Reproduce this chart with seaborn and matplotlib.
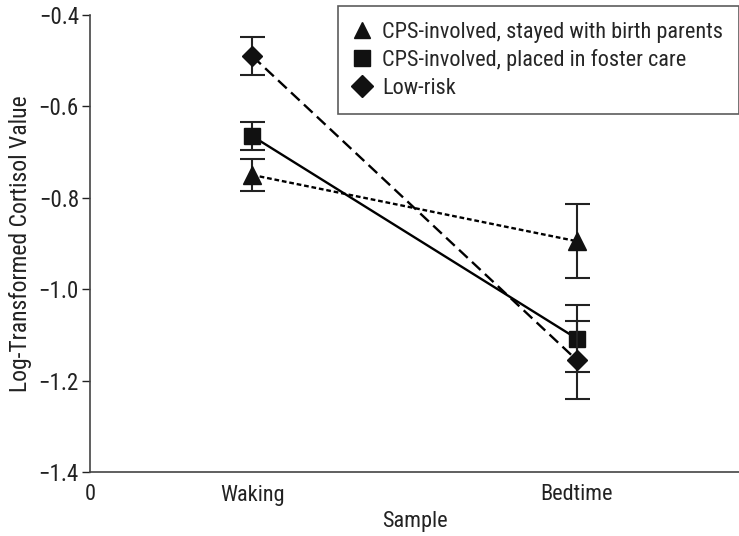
import matplotlib
matplotlib.use("Agg")
import matplotlib.pyplot as plt
import seaborn as sns
import pandas as pd

samples = ["Waking", "Bedtime"]
sample_pos = [1, 3]
groups = ["CPS-involved, stayed with birth parents",
          "CPS-involved, placed in foster care",
          "Low-risk"]
means_birth = [-0.750, -0.895]
err_birth = [0.035, 0.081]
means_foster = [-0.665, -1.108]
err_foster = [0.031, 0.073]
means_low = [-0.490, -1.155]
err_low = [0.042, 0.085]

sns.set_style("ticks")
plt.rcParams['font.family'] = ['Roboto Condensed', 'Liberation Sans Narrow', 'PT Sans Narrow', 'DejaVu Sans']

rows = []
for g, m in zip(groups, [means_birth, means_foster, means_low]):
    for s, x, v in zip(samples, sample_pos, m):
        rows.append({"group": g, "sample": s, "x": x, "value": v})
df = pd.DataFrame(rows)

FS = 16

fig = plt.figure(figsize=(7.39, 5.36), dpi=100)
ax = fig.add_axes([90/739, 64/536, 1 - 90/739, (472-15)/536])

markers = {groups[0]: "^", groups[1]: "s", groups[2]: "D"}
dashes = {groups[0]: (2, 1.2), groups[1]: "", groups[2]: (5, 2.5)}
msizes = {groups[0]: 12.5, groups[1]: 11.5, groups[2]: 10.5}

for g in groups:
    sub = df[df.group == g]
    sns.lineplot(data=sub, x="x", y="value", ax=ax, color="black",
                 linewidth=1.7, legend=False,
                 linestyle="-" if dashes[g] == "" else "--")
    line = ax.lines[-1]
    if dashes[g] != "":
        line.set_dashes(dashes[g])

for g, m, e in zip(groups, [means_birth, means_foster, means_low],
                   [err_birth, err_foster, err_low]):
    ax.errorbar(sample_pos, m, yerr=e, fmt="none", ecolor="#222222",
                elinewidth=1.5, capsize=9, capthick=1.5)
    ax.plot(sample_pos, m, linestyle="none", marker=markers[g],
            markersize=msizes[g], color="#111111", label=g)

ax.set_xlim(0, 4)
ax.set_ylim(-1.4, -0.4)
ax.set_yticks([-1.4, -1.2, -1.0, -0.8, -0.6, -0.4])
ax.set_yticklabels(["\u22121.4", "\u22121.2", "\u22121.0", "\u22120.8", "\u22120.6", "\u22120.4"])
ax.set_xticks([0] + sample_pos)
ax.set_xticklabels(["0"] + samples)
ax.tick_params(axis="x", length=0, labelsize=FS, pad=9, colors="#222222")
ax.tick_params(axis="y", length=6, width=1, labelsize=16.5, colors="#222222", direction="out", pad=2)
ax.set_xlabel("Sample", fontsize=FS, color="#222222", labelpad=4)
ax.set_ylabel("Log-Transformed Cortisol Value", fontsize=17, color="#222222", labelpad=5)
for sp in ["top", "right"]:
    ax.spines[sp].set_visible(False)
for sp in ["left", "bottom"]:
    ax.spines[sp].set_color("#444444")
    ax.spines[sp].set_linewidth(1.2)

leg = ax.legend(loc="upper right", bbox_to_anchor=(1.0, 1 - 6/536),
                bbox_transform=fig.transFigure, frameon=True, fancybox=False,
                fontsize=FS, handlelength=0.8, handletextpad=0.5,
                labelspacing=0.3, borderpad=0.7, borderaxespad=0)
leg.get_frame().set_edgecolor("#333333")
leg.get_frame().set_linewidth(1.2)
for h in leg.legend_handles:
    h.set_markersize(11)

fig.savefig("out.png", dpi=100)
